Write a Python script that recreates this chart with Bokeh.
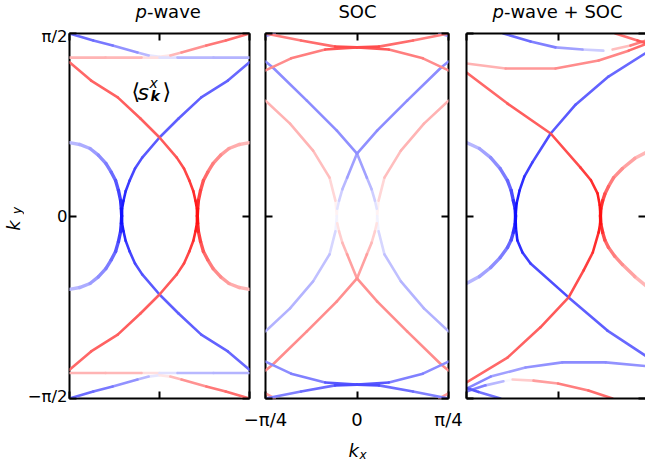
from bokeh.plotting import figure
from bokeh.models import ColumnDataSource, LinearAxis, FixedTicker, Label, Range1d
from bokeh.layouts import row, column
from bokeh.transform import linear_cmap
from bokeh.embed import file_html
from bokeh.resources import INLINE

# ---------------- axes / texts ----------------
X_TICKS = [-0.25, 0.0, 0.25]          # kx in units of pi
Y_TICKS = [-0.5, 0.0, 0.5]            # ky in units of pi
X_TICK_LABELS = ["−π/4", "0", "π/4"]
Y_TICK_LABELS = ["−π/2", "0", "π/2"]

# ---------------- data: <s^x_k> along the Fermi lines (kx/pi, ky/pi, s^x) ----------------
# panel 1 : p-wave
PW_B1_KX = [0.250, 0.190, 0.116, 0.053, 0.000, -0.048, -0.068, -0.083, -0.094, -0.100, -0.104, -0.105, -0.104, -0.100, -0.094, -0.083, -0.068, -0.048, 0.000, 0.053, 0.116, 0.190, 0.250]
PW_B1_KY = [0.421, 0.371, 0.325, 0.267, 0.215, 0.160, 0.130, 0.097, 0.068, 0.042, 0.020, 0.000, -0.020, -0.042, -0.068, -0.097, -0.130, -0.160, -0.215, -0.267, -0.325, -0.371, -0.421]
PW_B1_SX = [-0.58, -0.60, -0.62, -0.63, -0.63, -0.66, -0.70, -0.74, -0.80, -0.86, -0.92, -0.95, -0.92, -0.86, -0.80, -0.74, -0.70, -0.66, -0.63, -0.63, -0.62, -0.60, -0.58]
PW_R1_KX = [-0.250, -0.190, -0.116, -0.053, 0.000, 0.048, 0.068, 0.083, 0.094, 0.100, 0.104, 0.105, 0.104, 0.100, 0.094, 0.083, 0.068, 0.048, 0.000, -0.053, -0.116, -0.190, -0.250]
PW_R1_KY = [0.421, 0.371, 0.325, 0.267, 0.215, 0.160, 0.130, 0.097, 0.068, 0.042, 0.020, 0.000, -0.020, -0.042, -0.068, -0.097, -0.130, -0.160, -0.215, -0.267, -0.325, -0.371, -0.421]
PW_R1_SX = [0.58, 0.60, 0.62, 0.63, 0.63, 0.66, 0.70, 0.74, 0.80, 0.86, 0.92, 0.95, 0.92, 0.86, 0.80, 0.74, 0.70, 0.66, 0.63, 0.63, 0.62, 0.60, 0.58]
PW_B2_KX = [-0.250, -0.222, -0.193, -0.170, -0.149, -0.134, -0.122, -0.114, -0.108, -0.106, -0.105, -0.106, -0.108, -0.114, -0.122, -0.134, -0.149, -0.170, -0.193, -0.222, -0.250]
PW_B2_KY = [0.201, 0.196, 0.185, 0.167, 0.144, 0.120, 0.097, 0.070, 0.042, 0.020, 0.000, -0.020, -0.042, -0.070, -0.097, -0.120, -0.144, -0.167, -0.185, -0.196, -0.201]
PW_B2_SX = [-0.25, -0.30, -0.35, -0.42, -0.48, -0.55, -0.62, -0.70, -0.78, -0.88, -0.95, -0.88, -0.78, -0.70, -0.62, -0.55, -0.48, -0.42, -0.35, -0.30, -0.25]
PW_R2_KX = [0.250, 0.222, 0.193, 0.170, 0.149, 0.134, 0.122, 0.114, 0.108, 0.106, 0.105, 0.106, 0.108, 0.114, 0.122, 0.134, 0.149, 0.170, 0.193, 0.222, 0.250]
PW_R2_KY = [0.201, 0.196, 0.185, 0.167, 0.144, 0.120, 0.097, 0.070, 0.042, 0.020, 0.000, -0.020, -0.042, -0.070, -0.097, -0.120, -0.144, -0.167, -0.185, -0.196, -0.201]
PW_R2_SX = [0.25, 0.30, 0.35, 0.42, 0.48, 0.55, 0.62, 0.70, 0.78, 0.88, 0.95, 0.88, 0.78, 0.70, 0.62, 0.55, 0.48, 0.42, 0.35, 0.30, 0.25]
PW_TOP_KX = [-0.250, -0.184, -0.130, -0.061, -0.030, 0.000, 0.030, 0.061, 0.130, 0.184, 0.250]
PW_TOP_KY = [0.500, 0.481, 0.467, 0.448, 0.440, 0.436, 0.440, 0.448, 0.467, 0.481, 0.500]
PW_TOP_SX = [-0.60, -0.55, -0.50, -0.35, -0.20, 0.00, 0.20, 0.35, 0.50, 0.55, 0.60]
PW_BOT_KX = [-0.250, -0.184, -0.130, -0.061, -0.030, 0.000, 0.030, 0.061, 0.130, 0.184, 0.250]
PW_BOT_KY = [-0.500, -0.481, -0.467, -0.448, -0.440, -0.436, -0.440, -0.448, -0.467, -0.481, -0.500]
PW_BOT_SX = [-0.60, -0.55, -0.50, -0.35, -0.20, 0.00, 0.20, 0.35, 0.50, 0.55, 0.60]
PW_FT_KX = [-0.250, -0.150, -0.050, 0.000, 0.050, 0.150, 0.250]
PW_FT_KY = [0.434, 0.434, 0.434, 0.434, 0.434, 0.434, 0.434]
PW_FT_SX = [0.28, 0.30, 0.25, 0.00, -0.25, -0.30, -0.28]
PW_FB_KX = [-0.250, -0.150, -0.050, 0.000, 0.050, 0.150, 0.250]
PW_FB_KY = [-0.430, -0.430, -0.430, -0.430, -0.430, -0.430, -0.430]
PW_FB_SX = [0.28, 0.30, 0.25, 0.00, -0.25, -0.30, -0.28]

# panel 2 : SOC
SOC_XA_KX = [-0.250, -0.230, -0.137, -0.055, 0.000, 0.027, 0.040, 0.049, 0.054, 0.055, 0.054, 0.049, 0.040, 0.027, 0.000, -0.055, -0.137, -0.230, -0.250]
SOC_XA_KY = [0.423, 0.407, 0.316, 0.234, 0.171, 0.105, 0.073, 0.042, 0.020, 0.000, -0.020, -0.042, -0.073, -0.105, -0.171, -0.234, -0.316, -0.407, -0.423]
SOC_XA_SX = [-0.45, -0.45, -0.45, -0.45, -0.42, -0.32, -0.24, -0.15, -0.07, 0.00, 0.07, 0.15, 0.24, 0.32, 0.42, 0.45, 0.45, 0.45, 0.45]
SOC_XB_KX = [0.250, 0.230, 0.137, 0.055, 0.000, -0.027, -0.040, -0.049, -0.054, -0.055, -0.054, -0.049, -0.040, -0.027, 0.000, 0.055, 0.137, 0.230, 0.250]
SOC_XB_KY = [0.423, 0.407, 0.316, 0.234, 0.171, 0.105, 0.073, 0.042, 0.020, 0.000, -0.020, -0.042, -0.073, -0.105, -0.171, -0.234, -0.316, -0.407, -0.423]
SOC_XB_SX = [-0.45, -0.45, -0.45, -0.45, -0.42, -0.32, -0.24, -0.15, -0.07, 0.00, 0.07, 0.15, 0.24, 0.32, 0.42, 0.45, 0.45, 0.45, 0.45]
SOC_PA_KX = [-0.250, -0.183, -0.120, -0.075, -0.059, -0.055, -0.059, -0.075, -0.120, -0.183, -0.250]
SOC_PA_KY = [0.316, 0.253, 0.179, 0.105, 0.042, 0.000, -0.042, -0.105, -0.179, -0.253, -0.316]
SOC_PA_SX = [0.30, 0.30, 0.28, 0.22, 0.10, 0.00, -0.10, -0.22, -0.28, -0.30, -0.30]
SOC_PB_KX = [0.250, 0.183, 0.120, 0.075, 0.059, 0.055, 0.059, 0.075, 0.120, 0.183, 0.250]
SOC_PB_KY = [0.316, 0.253, 0.179, 0.105, 0.042, 0.000, -0.042, -0.105, -0.179, -0.253, -0.316]
SOC_PB_SX = [0.30, 0.30, 0.28, 0.22, 0.10, 0.00, -0.10, -0.22, -0.28, -0.30, -0.30]
SOC_AT_KX = [-0.250, -0.153, -0.060, 0.000, 0.060, 0.153, 0.250]
SOC_AT_KY = [0.500, 0.481, 0.464, 0.462, 0.464, 0.481, 0.500]
SOC_AT_SX = [0.50, 0.50, 0.65, 0.75, 0.65, 0.50, 0.50]
SOC_BT_KX = [-0.250, -0.180, -0.087, 0.000, 0.087, 0.180, 0.250]
SOC_BT_KY = [0.399, 0.432, 0.456, 0.462, 0.456, 0.432, 0.399]
SOC_BT_SX = [0.45, 0.45, 0.55, 0.75, 0.55, 0.45, 0.45]
SOC_AB_KX = [-0.250, -0.153, -0.060, 0.000, 0.060, 0.153, 0.250]
SOC_AB_KY = [-0.500, -0.481, -0.464, -0.462, -0.464, -0.481, -0.500]
SOC_AB_SX = [-0.50, -0.50, -0.65, -0.75, -0.65, -0.50, -0.50]
SOC_BB_KX = [-0.250, -0.180, -0.087, 0.000, 0.087, 0.180, 0.250]
SOC_BB_KY = [-0.399, -0.432, -0.456, -0.462, -0.456, -0.432, -0.399]
SOC_BB_SX = [-0.45, -0.45, -0.55, -0.75, -0.55, -0.45, -0.45]
SOC_TL_KX, SOC_TL_KY, SOC_TL_SX = [-0.250, -0.225], [0.493, 0.500], [-0.40, -0.40]
SOC_TR_KX, SOC_TR_KY, SOC_TR_SX = [0.250, 0.225], [0.493, 0.500], [-0.40, -0.40]
SOC_BL_KX, SOC_BL_KY, SOC_BL_SX = [-0.250, -0.225], [-0.486, -0.500], [0.40, 0.40]
SOC_BR_KX, SOC_BR_KY, SOC_BR_SX = [0.250, 0.225], [-0.486, -0.500], [0.40, 0.40]

# panel 3 : p-wave + SOC
SP_B1_KX = [0.250, 0.138, 0.048, -0.020, -0.070, -0.092, -0.105, -0.113, -0.116, -0.115, -0.111, -0.097, -0.075, 0.029, 0.135, 0.250]
SP_B1_KY = [0.453, 0.382, 0.305, 0.226, 0.147, 0.108, 0.070, 0.035, 0.000, -0.033, -0.067, -0.100, -0.130, -0.223, -0.314, -0.390]
SP_B1_SX = [-0.58, -0.60, -0.63, -0.66, -0.72, -0.78, -0.85, -0.91, -0.95, -0.91, -0.85, -0.78, -0.72, -0.66, -0.60, -0.58]
SP_R1_KX = [-0.250, -0.138, -0.020, 0.061, 0.090, 0.108, 0.114, 0.116, 0.115, 0.111, 0.095, 0.070, 0.029, -0.048, -0.138, -0.250]
SP_R1_KY = [0.393, 0.308, 0.226, 0.133, 0.098, 0.062, 0.030, 0.000, -0.022, -0.045, -0.100, -0.149, -0.223, -0.305, -0.388, -0.456]
SP_R1_SX = [0.58, 0.60, 0.66, 0.72, 0.78, 0.85, 0.91, 0.95, 0.91, 0.85, 0.78, 0.72, 0.66, 0.63, 0.60, 0.58]
SP_B2_KX = [-0.250, -0.215, -0.184, -0.158, -0.138, -0.128, -0.122, -0.117, -0.116, -0.117, -0.122, -0.128, -0.138, -0.158, -0.184, -0.215, -0.250]
SP_B2_KY = [0.201, 0.185, 0.160, 0.130, 0.097, 0.070, 0.042, 0.020, 0.000, -0.022, -0.045, -0.066, -0.086, -0.114, -0.141, -0.166, -0.185]
SP_B2_SX = [-0.25, -0.32, -0.40, -0.48, -0.55, -0.65, -0.75, -0.86, -0.95, -0.86, -0.75, -0.65, -0.55, -0.48, -0.40, -0.32, -0.25]
SP_R2_KX = [0.250, 0.210, 0.176, 0.152, 0.138, 0.128, 0.122, 0.117, 0.116, 0.117, 0.122, 0.128, 0.138, 0.155, 0.176, 0.210, 0.250]
SP_R2_KY = [0.179, 0.158, 0.130, 0.105, 0.081, 0.060, 0.042, 0.020, 0.000, -0.022, -0.045, -0.066, -0.086, -0.110, -0.133, -0.166, -0.199]
SP_R2_SX = [0.25, 0.32, 0.40, 0.48, 0.55, 0.65, 0.75, 0.86, 0.95, 0.86, 0.75, 0.65, 0.55, 0.48, 0.40, 0.32, 0.25]
SP_T1_KX = [-0.149, -0.075, -0.007, 0.067, 0.124, 0.149, 0.198, 0.250]
SP_T1_KY = [0.500, 0.478, 0.462, 0.456, 0.453, 0.456, 0.467, 0.484]
SP_T1_SX = [-0.60, -0.55, -0.45, -0.30, -0.10, 0.10, 0.40, 0.60]
SP_T2_KX = [0.157, 0.217, 0.250]
SP_T2_KY = [0.500, 0.481, 0.470]
SP_T2_SX = [0.50, 0.60, 0.70]
SP_F_KX = [-0.250, -0.143, -0.007, 0.111, 0.193, 0.250]
SP_F_KY = [0.418, 0.404, 0.404, 0.426, 0.453, 0.475]
SP_F_SX = [0.25, 0.35, 0.45, 0.45, 0.50, 0.65]
SP_T1B_KX = [-0.250, -0.198, -0.149, -0.124, -0.067, 0.000, 0.083, 0.149]
SP_T1B_KY = [-0.481, -0.464, -0.453, -0.448, -0.451, -0.459, -0.478, -0.500]
SP_T1B_SX = [-0.60, -0.40, -0.15, 0.10, 0.30, 0.45, 0.55, 0.60]
SP_T2B_KX = [-0.157, -0.217, -0.250]
SP_T2B_KY = [-0.500, -0.482, -0.471]
SP_T2B_SX = [-0.50, -0.60, -0.70]
SP_FB_KX = [-0.250, -0.184, -0.089, 0.012, 0.130, 0.250]
SP_FB_KY = [-0.473, -0.440, -0.415, -0.401, -0.401, -0.412]
SP_FB_SX = [-0.60, -0.35, -0.40, -0.45, -0.45, -0.40]

# ---------------- colour map (bwr) ----------------
PALETTE = []
for i in range(256):
    t = -1 + 2 * i / 255
    if t < 0:
        c = int(round(255 * (1 + t)))
        PALETTE.append("#%02x%02x%02x" % (c, c, 255))
    else:
        c = int(round(255 * (1 - t)))
        PALETTE.append("#%02x%02x%02x" % (255, c, c))


def segment_source(curves):
    segs = []
    for kx, ky, sx in curves:
        for i in range(len(kx) - 1):
            segs.append((kx[i], ky[i], kx[i + 1], ky[i + 1], 0.5 * (sx[i] + sx[i + 1])))
    segs.sort(key=lambda s: abs(s[4]))
    return ColumnDataSource(dict(x0=[s[0] for s in segs], y0=[s[1] for s in segs],
                                 x1=[s[2] for s in segs], y1=[s[3] for s in segs],
                                 s=[s[4] for s in segs]))


FONT = "DejaVu Sans"
TITLE_H = 26                  # strip with the panel titles (page y 0-26)
PANEL_TOP, PANEL_BOTTOM = 7, 7
PANEL_H = PANEL_TOP + 365 + PANEL_BOTTOM   # frames at page y 33-398
BOTTOM_H = 468 - TITLE_H - PANEL_H         # strip with the k_x tick labels and label
KY_W = 24                     # strip with the k_y label
P1_LEFT_BORDER = 66 - KY_W
P2_LEFT, P2_WIDTH = 265, 183  # page x of the SOC frame (for the shared k_x tick labels)


def strip(width, height, x_range=None):
    s = figure(width=width, height=height, x_range=x_range or Range1d(0, 1), y_range=Range1d(0, 1),
               output_backend="svg", toolbar_location=None,
               x_axis_location=None, y_axis_location=None,
               min_border_left=0, min_border_right=0, min_border_top=0, min_border_bottom=0)
    s.grid.visible = False
    s.outline_line_color = None
    s.background_fill_color = "white"
    s.border_fill_color = "white"
    return s


def make_panel(width, ml, mr, xend, thin, wide, left_labels=False, outline=True):
    p = figure(width=width, height=PANEL_H, x_range=Range1d(-0.25, xend), y_range=Range1d(-0.5, 0.5),
               output_backend="svg", toolbar_location=None,
               x_axis_location=None, y_axis_location=None,
               min_border_left=ml, min_border_right=mr,
               min_border_top=PANEL_TOP, min_border_bottom=PANEL_BOTTOM)
    p.grid.visible = False
    p.background_fill_color = "white"
    p.border_fill_color = "white"
    p.outline_line_color = "black" if outline else None
    p.outline_line_width = 2
    cmap = linear_cmap("s", PALETTE, -1, 1)
    if wide:
        p.segment(x0="x0", y0="y0", x1="x1", y1="y1", source=segment_source(wide),
                  line_color=cmap, line_width=3.4, line_cap="round")
    p.segment(x0="x0", y0="y0", x1="x1", y1="y1", source=segment_source(thin),
              line_color=cmap, line_width=2.6, line_cap="round")
    specs = [("left", Y_TICKS, Y_TICK_LABELS if left_labels else None),
             ("right", Y_TICKS, None),
             ("above", X_TICKS, None),
             ("below", X_TICKS, None)]
    for side, ticks, labels in specs:
        ax = LinearAxis(ticker=FixedTicker(ticks=ticks, minor_ticks=[]))
        ax.major_label_text_font = FONT
        ax.major_label_text_color = "black"
        if labels is None:
            ax.major_label_overrides = {t: "" for t in ticks}
            ax.major_label_standoff = 0
            ax.major_label_text_font_size = "0px"
        else:
            ax.major_label_overrides = {t: l for t, l in zip(ticks, labels)}
            ax.major_label_standoff = 2
            ax.major_label_text_font_size = "16.5px"
        ax.axis_line_color = None if outline or side == "right" else "black"
        ax.axis_line_width = 2
        ax.major_tick_in = 7
        ax.major_tick_out = 0
        ax.major_tick_line_width = 2
        ax.major_tick_line_color = "black"
        ax.minor_tick_in = 0
        ax.minor_tick_out = 0
        p.add_layout(ax, side)
    return p


def label(p, text, x, y, size, style="normal", align="left", angle=0.0, baseline="alphabetic"):
    p.add_layout(Label(x=x, y=y, x_units="screen", y_units="screen", text=text,
                       text_font=FONT, text_font_size=f"{size}px", text_font_style=style,
                       text_align=align, text_baseline=baseline, angle=angle,
                       text_color="black"))


pw_thin = [(PW_B1_KX, PW_B1_KY, PW_B1_SX), (PW_R1_KX, PW_R1_KY, PW_R1_SX),
           (PW_TOP_KX, PW_TOP_KY, PW_TOP_SX), (PW_BOT_KX, PW_BOT_KY, PW_BOT_SX),
           (PW_FT_KX, PW_FT_KY, PW_FT_SX), (PW_FB_KX, PW_FB_KY, PW_FB_SX)]
pw_wide = [(PW_B2_KX, PW_B2_KY, PW_B2_SX), (PW_R2_KX, PW_R2_KY, PW_R2_SX)]
soc_thin = [(SOC_XA_KX, SOC_XA_KY, SOC_XA_SX), (SOC_XB_KX, SOC_XB_KY, SOC_XB_SX),
            (SOC_PA_KX, SOC_PA_KY, SOC_PA_SX), (SOC_PB_KX, SOC_PB_KY, SOC_PB_SX),
            (SOC_AT_KX, SOC_AT_KY, SOC_AT_SX), (SOC_BT_KX, SOC_BT_KY, SOC_BT_SX),
            (SOC_AB_KX, SOC_AB_KY, SOC_AB_SX), (SOC_BB_KX, SOC_BB_KY, SOC_BB_SX),
            (SOC_TL_KX, SOC_TL_KY, SOC_TL_SX), (SOC_TR_KX, SOC_TR_KY, SOC_TR_SX),
            (SOC_BL_KX, SOC_BL_KY, SOC_BL_SX), (SOC_BR_KX, SOC_BR_KY, SOC_BR_SX)]
sp_thin = [(SP_B1_KX, SP_B1_KY, SP_B1_SX), (SP_R1_KX, SP_R1_KY, SP_R1_SX),
           (SP_T1_KX, SP_T1_KY, SP_T1_SX), (SP_T2_KX, SP_T2_KY, SP_T2_SX),
           (SP_F_KX, SP_F_KY, SP_F_SX), (SP_T1B_KX, SP_T1B_KY, SP_T1B_SX),
           (SP_T2B_KX, SP_T2B_KY, SP_T2B_SX), (SP_FB_KX, SP_FB_KY, SP_FB_SX)]
sp_wide = [(SP_B2_KX, SP_B2_KY, SP_B2_SX), (SP_R2_KX, SP_R2_KY, SP_R2_SX)]

# panels: frames at page x = 66-249, 265-448, 466-645
p1 = make_panel(P1_LEFT_BORDER + 183 + 8, P1_LEFT_BORDER, 8, 0.25, pw_thin, pw_wide, left_labels=True)
p2 = make_panel(200, 8, 9, 0.25, soc_thin, None)
p3 = make_panel(188, 9, 0, -0.25 + 0.5 * 179 / 183, sp_thin, sp_wide, outline=False)

# <s^x_k> annotation in the first panel (inside the frame)
label(p1, "⟨", 62, 307, 22)
label(p1, "s", 68, 306, 22, "italic")
label(p1, "x", 80, 316, 14, "italic")
label(p1, "k", 81, 303, 14, "bold italic")
label(p1, "⟩", 93, 307, 22)

# title strip
titles = strip(645, TITLE_H)
label(titles, "p", 135, 15, 18, "italic")
label(titles, "-wave", 146.4, 15, 18)
label(titles, "SOC", 357, 15, 18, align="center")
label(titles, "p", 492, 15, 18, "italic")
label(titles, "-wave + SOC", 503.4, 15, 18)

# k_y strip (centre-anchored, rotated)
ky = strip(KY_W, PANEL_H)
label(ky, "k", 12.5, 173, 18, "italic", align="center", angle=1.5708, baseline="middle")
label(ky, "y", 16.5, 188, 12, "italic", align="center", angle=1.5708, baseline="middle")

# bottom strip: the SOC panel's k_x tick labels (same kx scale as that panel) and k_x
scale = 0.5 / P2_WIDTH
bottom = strip(645, BOTTOM_H, Range1d(-0.25 - P2_LEFT * scale, -0.25 + (645 - P2_LEFT) * scale))
xax = LinearAxis(ticker=FixedTicker(ticks=X_TICKS, minor_ticks=[]))
xax.major_label_overrides = {t: l for t, l in zip(X_TICKS, X_TICK_LABELS)}
xax.major_label_text_font = FONT
xax.major_label_text_font_size = "18px"
xax.major_label_text_color = "black"
xax.major_label_standoff = 0
xax.axis_line_color = None
xax.major_tick_line_color = None
xax.major_tick_in = 0
xax.major_tick_out = 0
xax.minor_tick_in = 0
xax.minor_tick_out = 0
bottom.add_layout(xax, "above")
label(bottom, "k", 348, 18, 18, "italic")
label(bottom, "x", 359, 14, 12, "italic")

layout = column(titles, row(ky, p1, p2, p3), bottom)
open("out.html", "w").write(file_html(layout, INLINE))
